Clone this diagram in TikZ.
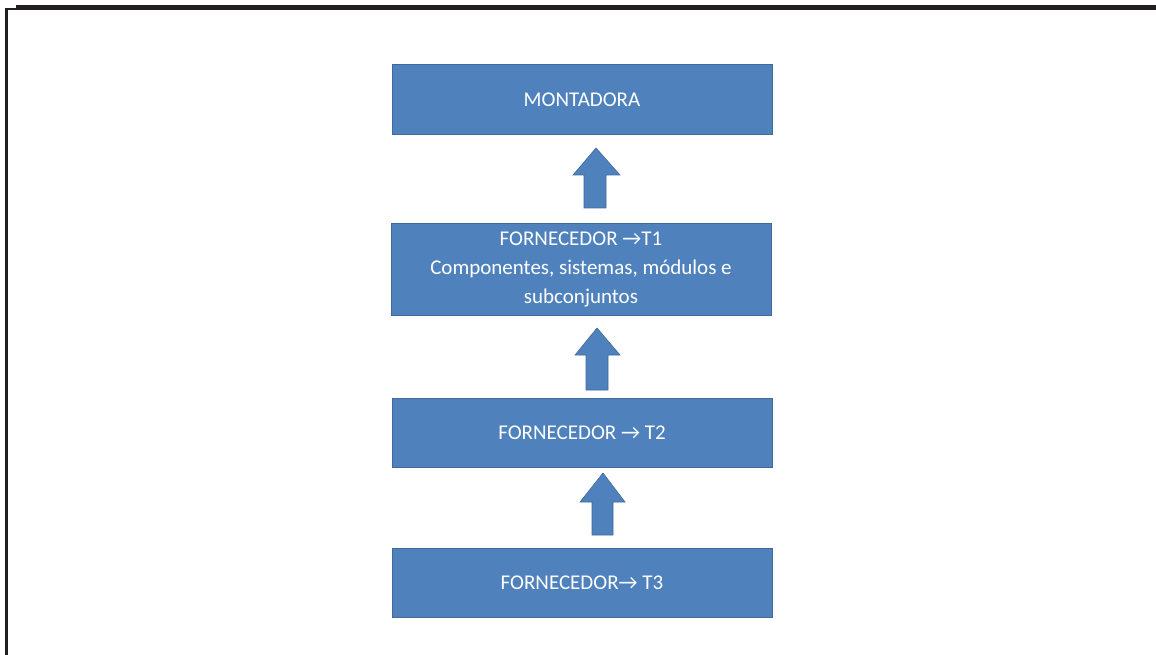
\documentclass[tikz,border=0pt]{standalone}
\usepackage{fontspec}
\setmainfont{Carlito}
\definecolor{boxblue}{HTML}{4F81BD}
\definecolor{boxedge}{HTML}{3F6A9C}
\definecolor{frameblack}{HTML}{231F20}
\begin{document}
\begin{tikzpicture}[x=1pt,y=-1pt,
  blockbox/.style={draw=boxedge,line width=1pt,fill=boxblue,text=white,
    minimum width=380pt,inner sep=0pt,align=center,
    font=\fontsize{21}{29}\selectfont},
  uparrow/.style={fill=boxblue,draw=boxedge,line width=0.6pt}]
\useasboundingbox (0,0) rectangle (1156,655);
% frame
\fill[frameblack] (16,5) rectangle (1156,10);
\fill[frameblack] (5,8) rectangle (7.5,655);
\fill[frameblack] (5,8) rectangle (16,10);
% boxes
\node[blockbox,minimum height=70pt] (mont) at (582,100) {MONTADORA};
\node[blockbox,minimum height=92pt] (t1) at (581,269) {FORNECEDOR \textrightarrow T1\\Componentes, sistemas, módulos e\\subconjuntos};
\node[blockbox,minimum height=69pt] (t2) at (582,432.5) {FORNECEDOR \textrightarrow\ T2};
\node[blockbox,minimum height=69pt] (t3) at (582,582.5) {FORNECEDOR\textrightarrow\ T3};
% block arrows
\draw[uparrow] (584,208) -- (584,175) -- (573,175) -- (596,148) -- (620,175) -- (606,175) -- (606,208) -- cycle;
\draw[uparrow] (586,390) -- (586,355) -- (575,355) -- (597,328) -- (620,355) -- (608,355) -- (608,390) -- cycle;
\draw[uparrow] (592,535) -- (592,502) -- (580,502) -- (603,473) -- (625,502) -- (613,502) -- (613,535) -- cycle;
\end{tikzpicture}
\end{document}
